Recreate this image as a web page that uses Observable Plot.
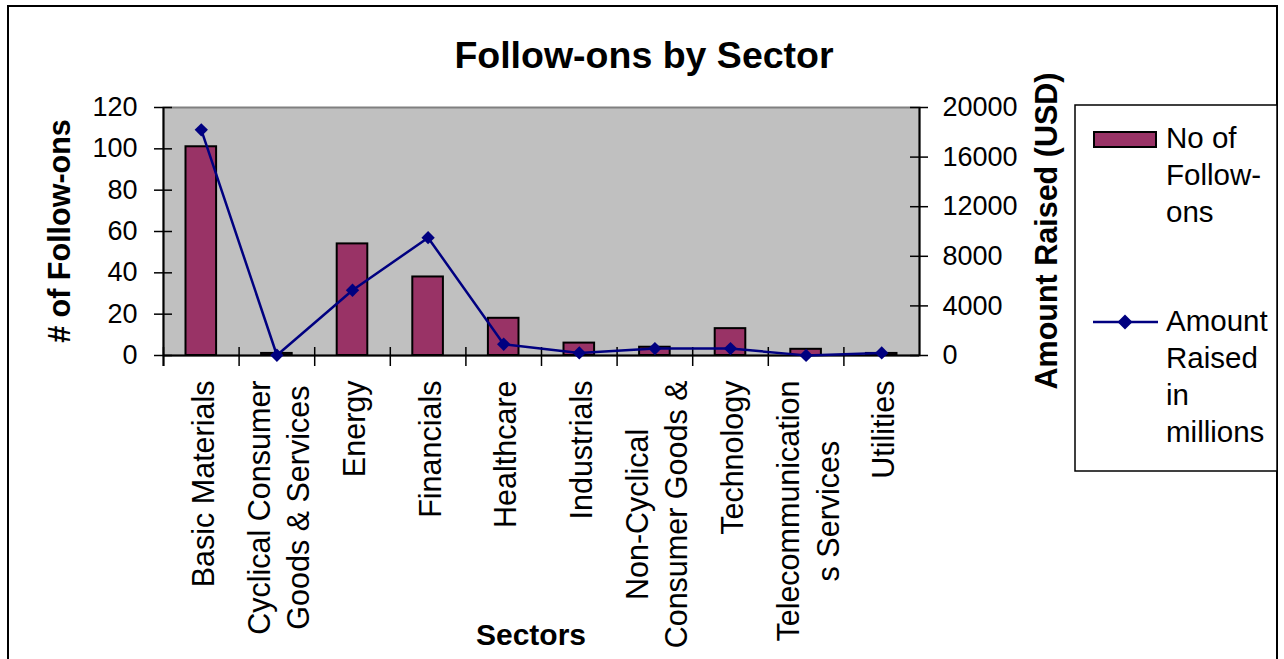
<!DOCTYPE html>
<html><head><meta charset="utf-8">
<script src="https://cdn.jsdelivr.net/npm/d3@7"></script>
<script src="https://cdn.jsdelivr.net/npm/@observablehq/plot@0.6"></script>
<style>
body{margin:0;background:#fff;}
#wrap{position:relative;width:1284px;height:659px;overflow:hidden;background:#fff;}
#wrap svg{position:absolute;left:0;top:0;}
</style></head><body><div id="wrap"></div><script>
const sectors = ["Basic Materials","Cyclical Consumer Goods & Services","Energy","Financials","Healthcare","Industrials","Non-Cyclical Consumer Goods & Services","Technology","Telecommunications Services","Utilities"];
const tickLabels = ["Basic Materials","Cyclical Consumer\nGoods & Services","Energy","Financials","Healthcare","Industrials","Non-Cyclical\nConsumer Goods &","Technology","Telecommunication\ns Services","Utilities"];
const followOns = [101, 1, 54, 38, 18, 6, 4, 13, 3, 1];
const amountRaised = [18200, 20, 5260, 9500, 910, 210, 560, 560, 10, 210];
const leftTicks = [0, 20, 40, 60, 80, 100, 120];
const rightTicks = [0, 4000, 8000, 12000, 16000, 20000];

const FONT = '"Liberation Sans", Arial, Helvetica, sans-serif';
const W = 1284, H = 659, mL = 163, mR = 365, mT = 107, mB = 304;
const plotW = W - mL - mR, plotH = H - mT - mB;
const step = plotW / sectors.length;

const barData = sectors.map((s, i) => ({sector: s, count: followOns[i]}));
const lineData = sectors.map((s, i) => ({sector: s, amount: amountRaised[i]}));

const common = {width: W, height: H, marginLeft: mL, marginRight: mR, marginTop: mT, marginBottom: mB};

const p1 = Plot.plot({
  ...common,
  style: {fontFamily: FONT, background: "transparent", color: "#000"},
  x: {type: "band", domain: sectors, padding: 0, round: false},
  y: {domain: [0, 120]},
  marks: [
    Plot.frame({fill: "#C0C0C0", stroke: "#808080", strokeWidth: 2}),
    Plot.barY(barData, {x: "sector", y: "count", fill: "#993366", stroke: "#000", strokeWidth: 2, insetLeft: 22.5, insetRight: 22.5}),
    Plot.ruleY([0], {stroke: "#000", strokeWidth: 2}),
    Plot.ruleY(leftTicks, {insetLeft: -9, insetRight: plotW - 9, stroke: "#000", strokeWidth: 1.5}),
    Plot.ruleX(sectors, {x: d => d, dx: -step / 2, insetTop: plotH - 8, insetBottom: -11, stroke: "#000", strokeWidth: 1.5}),
    Plot.ruleX([sectors[0]], {x: d => d, dx: -step / 2, insetBottom: -11, stroke: "#000", strokeWidth: 2}),
    Plot.axisY({ticks: leftTicks, tickSize: 0, tickPadding: 26, fontSize: 27, label: null}),
    Plot.axisX({tickSize: 0, tickPadding: 25, rotate: -90, textAnchor: "end", lineAnchor: "middle", lineHeight: 1.3, fontSize: 30.5, label: null,
      tickFormat: d => tickLabels[sectors.indexOf(d)]})
  ]
});

const p2 = Plot.plot({
  ...common,
  style: {fontFamily: FONT, background: "transparent", color: "#000"},
  x: {type: "band", domain: sectors, padding: 0, round: false, axis: null},
  y: {domain: [0, 20000]},
  marks: [
    Plot.ruleX([sectors[sectors.length - 1]], {x: d => d, dx: step / 2, stroke: "#000", strokeWidth: 2}),
    Plot.ruleY(rightTicks, {insetLeft: plotW - 9, insetRight: -9, stroke: "#000", strokeWidth: 1.5}),
    Plot.axisY({anchor: "right", ticks: rightTicks, tickSize: 0, tickPadding: 23, fontSize: 27, label: null, tickFormat: d => String(d)}),
    Plot.line(lineData, {x: "sector", y: "amount", stroke: "#000080", strokeWidth: 2.5}),
    Plot.dot(lineData, {x: "sector", y: "amount", symbol: "diamond2", r: 6, fill: "#000080"})
  ]
});

const wrap = document.getElementById("wrap");
wrap.appendChild(p1);
wrap.appendChild(p2);

// centre the lines of wrapped category labels on each other
p1.querySelectorAll('g[aria-label="x-axis tick label"] text').forEach(t => {
  const spans = t.querySelectorAll("tspan");
  if (spans.length < 2) return;
  let w = 0;
  spans.forEach(s => { w = Math.max(w, s.getComputedTextLength()); });
  t.setAttribute("text-anchor", "middle");
  spans.forEach(s => s.setAttribute("x", -w / 2));
});

// titles, legend, chart border
const svg = d3.select(wrap).append("svg").attr("width", W).attr("height", H)
  .style("font-family", FONT).style("pointer-events", "none");
svg.append("rect").attr("x", 8).attr("y", 6).attr("width", 1269).attr("height", 720)
  .attr("fill", "none").attr("stroke", "#000").attr("stroke-width", 2);
svg.append("text").attr("x", 644).attr("y", 68).attr("text-anchor", "middle")
  .attr("font-weight", "bold").attr("font-size", 37.5).text("Follow-ons by Sector");
svg.append("text").attr("transform", "translate(70,231) rotate(-90)").attr("text-anchor", "middle")
  .attr("font-weight", "bold").attr("font-size", 30.5).text("# of Follow-ons");
svg.append("text").attr("transform", "translate(1057,231) rotate(-90)").attr("text-anchor", "middle")
  .attr("font-weight", "bold").attr("font-size", 30.5).text("Amount Raised (USD)");
svg.append("text").attr("x", 531).attr("y", 645).attr("text-anchor", "middle")
  .attr("font-weight", "bold").attr("font-size", 30).text("Sectors");

const lg = svg.append("g");
lg.append("rect").attr("x", 1075).attr("y", 105).attr("width", 202).attr("height", 366)
  .attr("fill", "#fff").attr("stroke", "#000").attr("stroke-width", 1.5);
lg.append("rect").attr("x", 1094).attr("y", 132).attr("width", 62).attr("height", 15)
  .attr("fill", "#993366").attr("stroke", "#000").attr("stroke-width", 2);
["No of", "Follow-", "ons"].forEach((s, i) =>
  lg.append("text").attr("x", 1166).attr("y", 148 + i * 37).attr("font-size", 29.5).text(s));
lg.append("line").attr("x1", 1093).attr("x2", 1158).attr("y1", 322).attr("y2", 322)
  .attr("stroke", "#000080").attr("stroke-width", 2.5);
lg.append("path").attr("d", "M1125,314.5L1132.5,322L1125,329.5L1117.5,322Z").attr("fill", "#000080");
["Amount", "Raised", "in", "millions"].forEach((s, i) =>
  lg.append("text").attr("x", 1166).attr("y", 331 + i * 37).attr("font-size", 29.5).text(s));
</script></body></html>
